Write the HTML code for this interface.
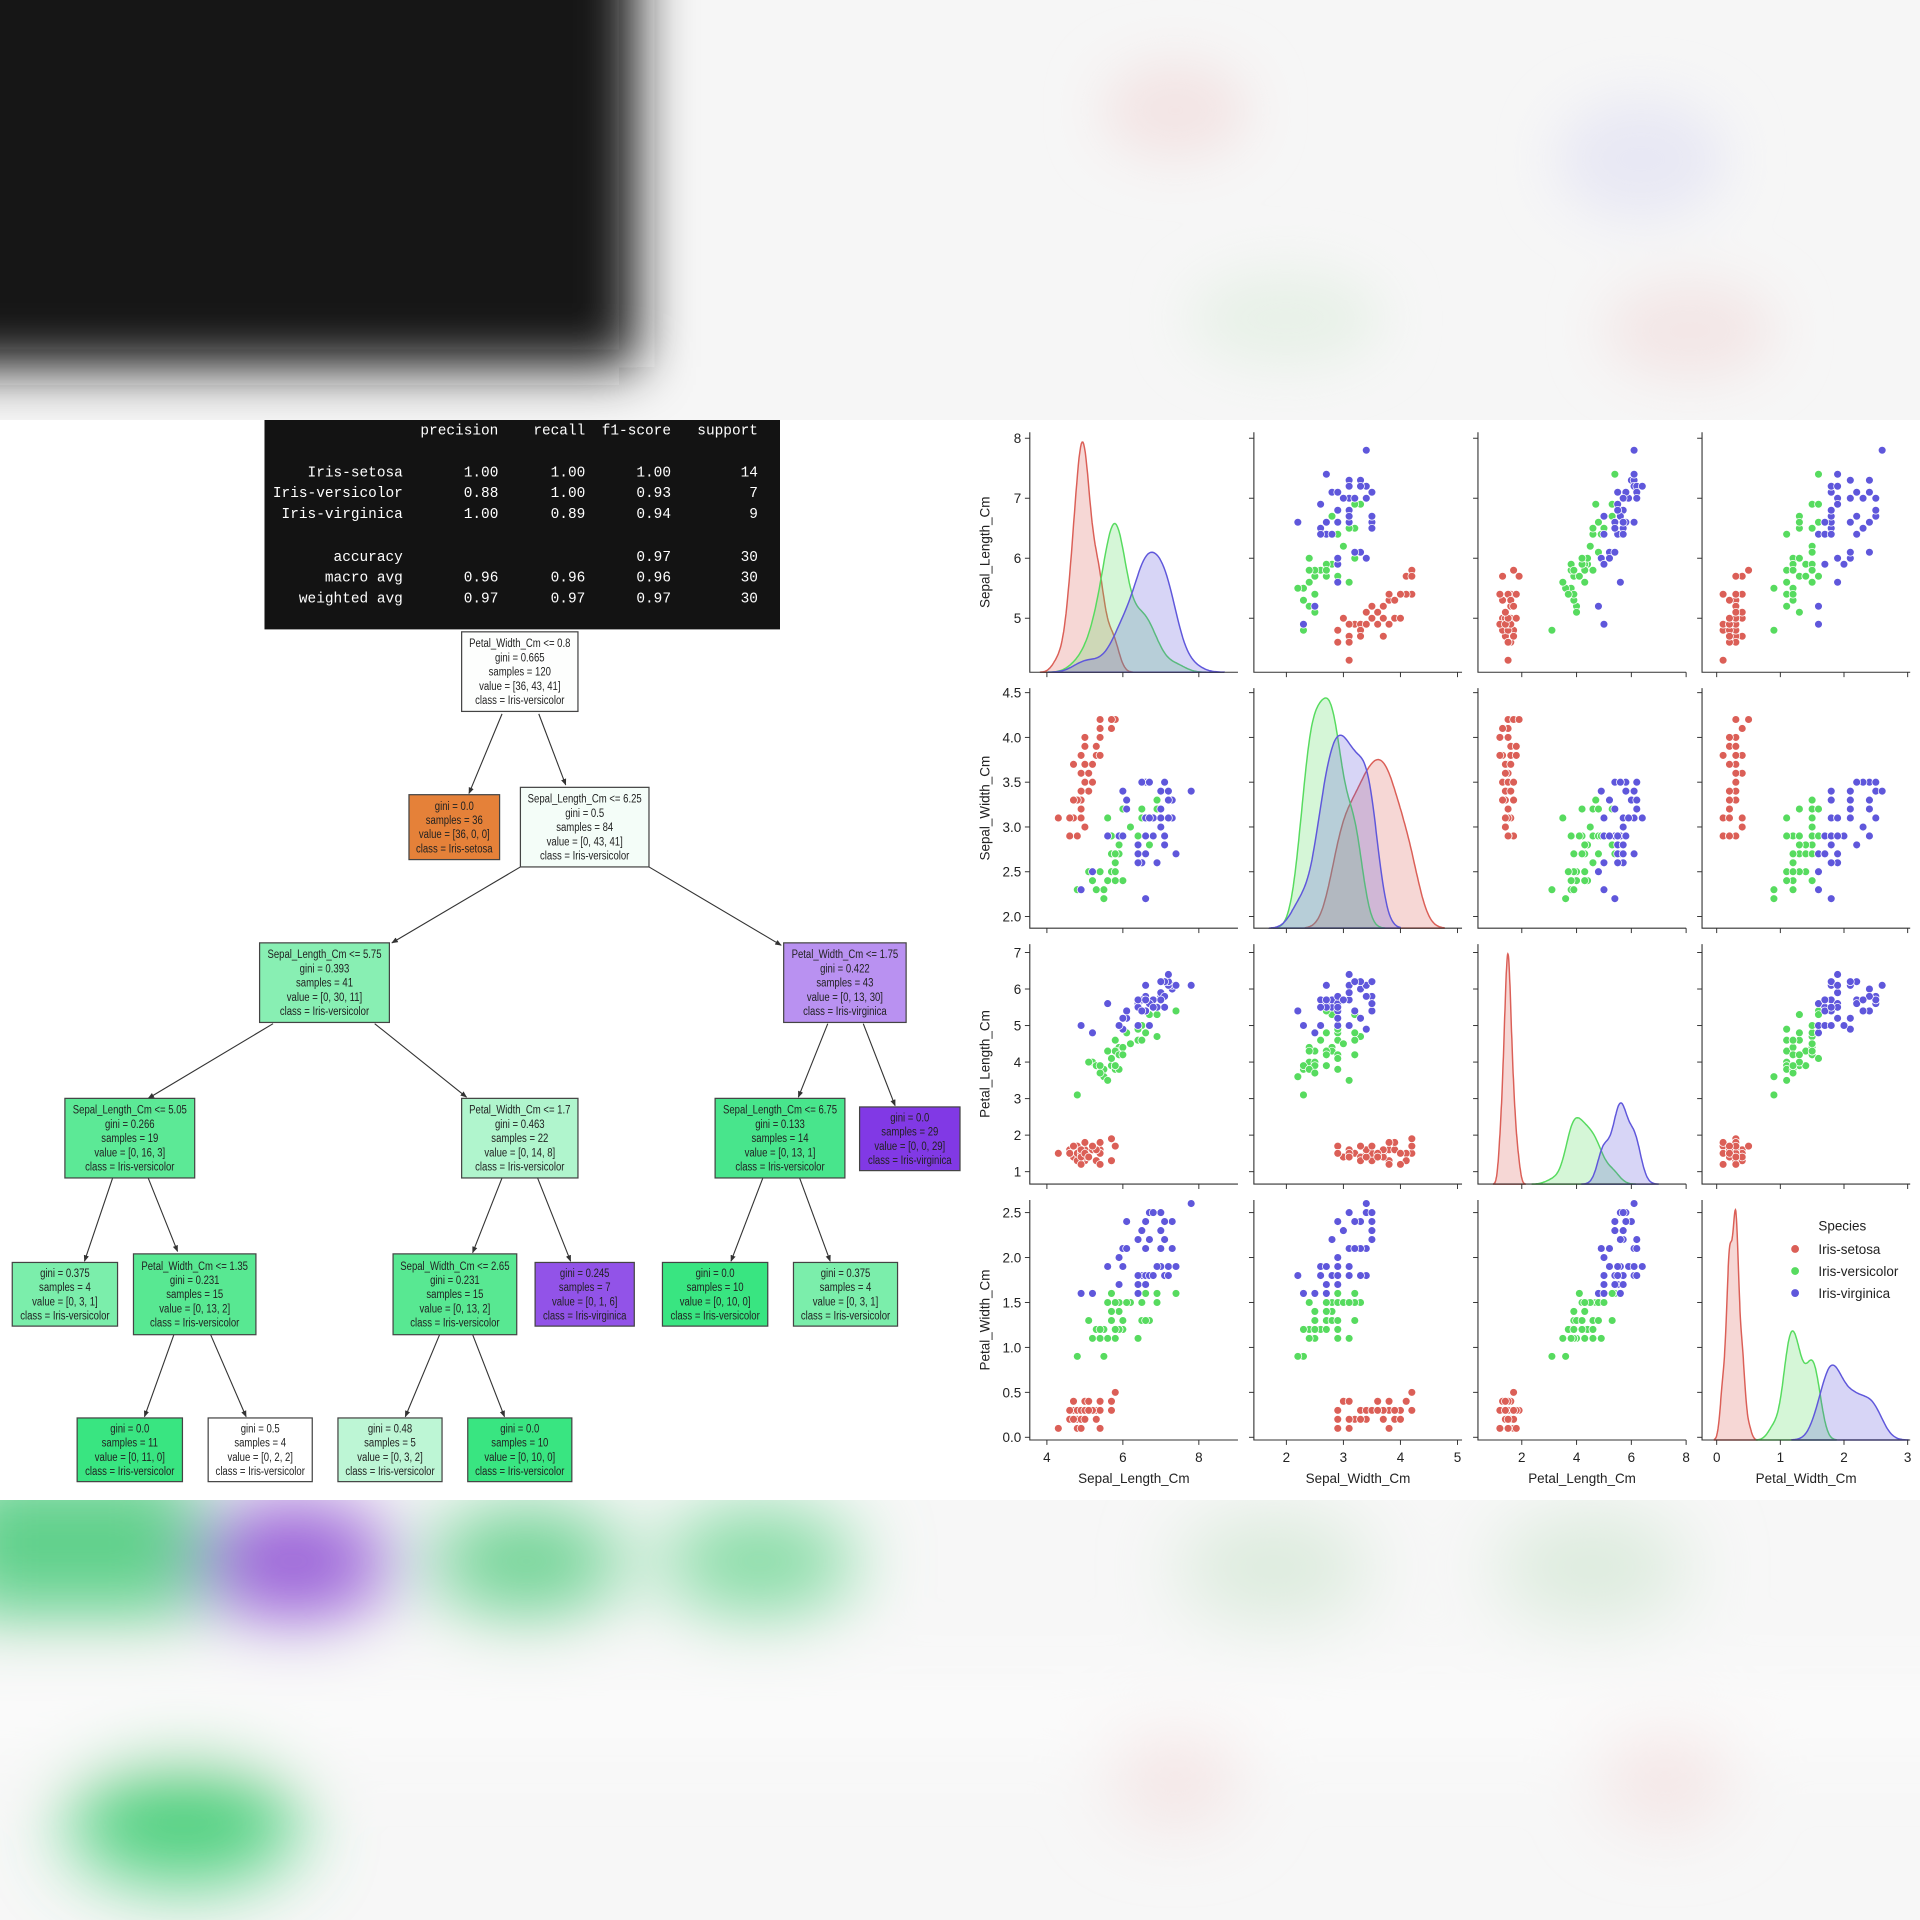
<!DOCTYPE html>
<html><head><meta charset="utf-8">
<style>
html,body{margin:0;padding:0;background:#fff;}
svg{display:block;}
.rep{font-family:"Liberation Mono",monospace;font-size:11.8px;fill:#fff;}
.nd{font-family:"Liberation Sans",sans-serif;font-size:10px;fill:#222;}
.ax{font-family:"Liberation Sans","DejaVu Sans",sans-serif;font-size:11px;fill:#222;}
</style></head>
<body>
<svg id="s" width="1920" height="1920" viewBox="0 0 1568 1568" xmlns="http://www.w3.org/2000/svg">
<defs>
<filter id="b1" x="-50%" y="-50%" width="200%" height="200%"><feGaussianBlur stdDeviation="22"/></filter>
<filter id="b2" x="-50%" y="-50%" width="200%" height="200%"><feGaussianBlur stdDeviation="30"/></filter>
<clipPath id="ct"><rect x="0" y="0" width="1568" height="343"/></clipPath>
<clipPath id="cb"><rect x="0" y="1225" width="1568" height="343"/></clipPath>
<marker id="ar" viewBox="0 0 10 10" refX="9" refY="5" markerWidth="6" markerHeight="6" orient="auto"><path d="M0,1 L10,5 L0,9 z" fill="#333"/></marker>
</defs>
<rect width="1568" height="1568" fill="#fff"/>
<g clip-path="url(#ct)">
<rect x="0" y="0" width="1568" height="343" fill="#f6f6f6"/>
<g filter="url(#b1)">
<rect x="-60" y="-60" width="580" height="360" fill="#141414"/>
<ellipse cx="960" cy="90" rx="60" ry="40" fill="#f3e4e4"/>
<ellipse cx="1340" cy="130" rx="70" ry="50" fill="#e8e8f4"/>
<ellipse cx="1050" cy="260" rx="80" ry="40" fill="#e8f1e8"/>
<ellipse cx="1380" cy="270" rx="70" ry="40" fill="#f3e6e6"/>
</g>
</g>
<g clip-path="url(#cb)">
<rect x="0" y="1225" width="1568" height="343" fill="#f7f7f7"/>
<g filter="url(#b2)">
<rect x="-40" y="1200" width="200" height="120" fill="#5fd08a"/>
<ellipse cx="240" cy="1275" rx="80" ry="50" fill="#9a62d8"/>
<ellipse cx="430" cy="1275" rx="80" ry="45" fill="#6fd394"/>
<ellipse cx="620" cy="1275" rx="80" ry="45" fill="#86dca5"/>
<ellipse cx="1040" cy="1280" rx="80" ry="45" fill="#dcebdd"/>
<ellipse cx="1300" cy="1280" rx="80" ry="45" fill="#dcebdd"/>
<ellipse cx="150" cy="1490" rx="95" ry="50" fill="#4fd07f"/>
<ellipse cx="960" cy="1450" rx="50" ry="40" fill="#f3e2e2"/>
<ellipse cx="1360" cy="1450" rx="50" ry="40" fill="#f3e2e2"/>
<rect x="-100" y="1380" width="1800" height="40" fill="#fdfdfd"/>
</g>
</g>
<rect x="216" y="343" width="421" height="171" fill="#131313"/>
<g class="rep" text-anchor="end">
<text x="407" y="355">precision</text><text x="478" y="355">recall</text><text x="548" y="355">f1-score</text><text x="619" y="355">support</text>
<text x="329" y="389">Iris-setosa</text><text x="407" y="389">1.00</text><text x="478" y="389">1.00</text><text x="548" y="389">1.00</text><text x="619" y="389">14</text>
<text x="329" y="406">Iris-versicolor</text><text x="407" y="406">0.88</text><text x="478" y="406">1.00</text><text x="548" y="406">0.93</text><text x="619" y="406">7</text>
<text x="329" y="423">Iris-virginica</text><text x="407" y="423">1.00</text><text x="478" y="423">0.89</text><text x="548" y="423">0.94</text><text x="619" y="423">9</text>
<text x="329" y="458">accuracy</text><text x="548" y="458">0.97</text><text x="619" y="458">30</text>
<text x="329" y="475">macro avg</text><text x="407" y="475">0.96</text><text x="478" y="475">0.96</text><text x="548" y="475">0.96</text><text x="619" y="475">30</text>
<text x="329" y="492">weighted avg</text><text x="407" y="492">0.97</text><text x="478" y="492">0.97</text><text x="548" y="492">0.97</text><text x="619" y="492">30</text>
</g>
<g stroke="#333" stroke-width="0.9" marker-end="url(#ar)">
<line x1="410" y1="583" x2="383" y2="648"/><line x1="440" y1="583" x2="462" y2="641"/>
<line x1="425" y1="708" x2="320" y2="770"/><line x1="530" y1="708" x2="638" y2="772"/>
<line x1="223" y1="836" x2="121" y2="897"/><line x1="306" y1="836" x2="381" y2="896"/>
<line x1="676" y1="836" x2="652" y2="896"/><line x1="705" y1="836" x2="731" y2="903"/>
<line x1="92" y1="962" x2="69" y2="1030"/><line x1="121" y1="962" x2="145" y2="1022"/>
<line x1="410" y1="962" x2="386" y2="1023"/><line x1="439" y1="962" x2="466" y2="1030"/>
<line x1="623" y1="962" x2="597" y2="1030"/><line x1="653" y1="962" x2="678" y2="1030"/>
<line x1="142" y1="1090" x2="118" y2="1157"/><line x1="172" y1="1090" x2="201" y2="1157"/>
<line x1="359" y1="1090" x2="331" y2="1157"/><line x1="386" y1="1090" x2="412" y2="1157"/>
</g>
<g id="tree"></g>
<g id="pp"></g>
</svg>
<script>
var NS="http://www.w3.org/2000/svg";
function el(p,t,a,txt){var e=document.createElementNS(NS,t);for(var k in a)e.setAttribute(k,a[k]);if(txt!==undefined)e.textContent=txt;p.appendChild(e);return e;}
var tree=document.getElementById("tree");
var nodes=[
[377,516,95,65,"#fdfefd",["Petal_Width_Cm <= 0.8","gini = 0.665","samples = 120","value = [36, 43, 41]","class = Iris-versicolor"]],
[334,649,74,53,"#e58139",["gini = 0.0","samples = 36","value = [36, 0, 0]","class = Iris-setosa"]],
[425,643,105,65,"#f4fdf8",["Sepal_Length_Cm <= 6.25","gini = 0.5","samples = 84","value = [0, 43, 41]","class = Iris-versicolor"]],
[212,770,106,65,"#88efb3",["Sepal_Length_Cm <= 5.75","gini = 0.393","samples = 41","value = [0, 30, 11]","class = Iris-versicolor"]],
[640,770,100,65,"#b991f1",["Petal_Width_Cm <= 1.75","gini = 0.422","samples = 43","value = [0, 13, 30]","class = Iris-virginica"]],
[53,897,106,65,"#5ce996",["Sepal_Length_Cm <= 5.05","gini = 0.266","samples = 19","value = [0, 16, 3]","class = Iris-versicolor"]],
[377,897,95,65,"#b0f5cd",["Petal_Width_Cm <= 1.7","gini = 0.463","samples = 22","value = [0, 14, 8]","class = Iris-versicolor"]],
[584,897,106,65,"#48e58c",["Sepal_Length_Cm <= 6.75","gini = 0.133","samples = 14","value = [0, 13, 1]","class = Iris-versicolor"]],
[702,904,82,52,"#8139e5",["gini = 0.0","samples = 29","value = [0, 0, 29]","class = Iris-virginica"]],
[10,1031,86,52,"#7beeab",["gini = 0.375","samples = 4","value = [0, 3, 1]","class = Iris-versicolor"]],
[109,1024,100,66,"#58e892",["Petal_Width_Cm <= 1.35","gini = 0.231","samples = 15","value = [0, 13, 2]","class = Iris-versicolor"]],
[321,1024,101,66,"#58e892",["Sepal_Width_Cm <= 2.65","gini = 0.231","samples = 15","value = [0, 13, 2]","class = Iris-versicolor"]],
[437,1031,81,52,"#9253e8",["gini = 0.245","samples = 7","value = [0, 1, 6]","class = Iris-virginica"]],
[541,1031,86,52,"#39e581",["gini = 0.0","samples = 10","value = [0, 10, 0]","class = Iris-versicolor"]],
[648,1031,85,52,"#7beeab",["gini = 0.375","samples = 4","value = [0, 3, 1]","class = Iris-versicolor"]],
[63,1158,86,52,"#39e581",["gini = 0.0","samples = 11","value = [0, 11, 0]","class = Iris-versicolor"]],
[170,1158,85,52,"#ffffff",["gini = 0.5","samples = 4","value = [0, 2, 2]","class = Iris-versicolor"]],
[276,1158,85,52,"#bdf6d5",["gini = 0.48","samples = 5","value = [0, 3, 2]","class = Iris-versicolor"]],
[382,1158,85,52,"#39e581",["gini = 0.0","samples = 10","value = [0, 10, 0]","class = Iris-versicolor"]]
];
nodes.forEach(function(n){
 el(tree,"rect",{x:n[0],y:n[1],width:n[2],height:n[3],fill:n[4],stroke:"#444","stroke-width":1});
 var L=n[5].length,lh=11.6,top=n[1]+(n[3]-L*lh)/2+9;
 n[5].forEach(function(s,i){el(tree,"text",{class:"nd",x:0,y:0,"text-anchor":"middle",transform:"translate("+(n[0]+n[2]/2)+","+(top+i*lh)+") scale(0.78,1)"},s);});
});
var pp=document.getElementById("pp");
var seed=12345;function rnd(){seed|=0;seed=seed+0x6D2B79F5|0;var t=Math.imul(seed^seed>>>15,1|seed);t=t+Math.imul(t^t>>>7,61|t)^t;return((t^t>>>14)>>>0)/4294967296;}
function gz(){var u=rnd()||1e-9,v=rnd();return Math.sqrt(-2*Math.log(u))*Math.cos(2*Math.PI*v);}
function r1(x){return Math.round(x*10)/10;}
var cols=["#db5f57","#57db5f","#5f57db"];
var data=[[],[],[]];
for(var i=0;i<40;i++){var a=gz(),b=gz(),c=gz(),d=gz();
 data[0].push([r1(5.0+0.35*a),r1(3.42+0.38*(0.74*a+0.67*b)),r1(1.46+0.17*(0.27*a+0.96*c)),Math.max(0.1,r1(0.24+0.1*(0.3*a+0.95*d)))]);}
for(var i=0;i<40;i++){var a=gz(),b=gz(),c=gz(),d=gz();
 data[1].push([r1(5.94+0.5*a),r1(2.77+0.31*(0.53*a+0.85*b)),r1(4.26+0.47*(0.75*a+0.66*c)),r1(1.33+0.2*(0.55*a+0.3*b+0.78*d))]);}
for(var i=0;i<40;i++){var a=gz(),b=gz(),c=gz(),d=gz();
 data[2].push([r1(6.59+0.64*a),r1(2.97+0.32*(0.46*a+0.89*b)),r1(5.55+0.55*(0.86*a+0.5*c)),r1(2.03+0.27*(0.3*a+0.5*b+0.8*d))]);}
var X0=[841,1024,1207,1390],Y0=[353,562,771,980],W=170,H=196;
var xr=[[3.55,9.03],[1.43,5.08],[0.4,8.0],[-0.23,3.04]];
var yr=[[4.1,8.1],[1.87,4.55],[0.66,7.23],[-0.03,2.64]];
var xt=[[4,6,8],[2,3,4,5],[2,4,6,8],[0,1,2,3]];
var yt=[[5,6,7,8],[2.0,2.5,3.0,3.5,4.0,4.5],[1,2,3,4,5,6,7],[0.0,0.5,1.0,1.5,2.0,2.5]];
var names=["Sepal_Length_Cm","Sepal_Width_Cm","Petal_Length_Cm","Petal_Width_Cm"];
function fx(c,v){return X0[c]+(v-xr[c][0])/(xr[c][1]-xr[c][0])*W;}
function fy(r,v){return Y0[r]+H-(v-yr[r][0])/(yr[r][1]-yr[r][0])*H;}
for(var r=0;r<4;r++)for(var c=0;c<4;c++){
 var x0=X0[c],y0=Y0[r];
 if(r==c){
  var curves=[],mx=0;
  for(var k=0;k<3;k++){var v=data[k].map(function(p){return p[c];});
   var m=v.reduce(function(a,b){return a+b;},0)/v.length;
   var sd=Math.sqrt(v.reduce(function(a,b){return a+(b-m)*(b-m);},0)/(v.length-1));
   var bw=sd*Math.pow(v.length,-0.2);
   var lo=Math.min.apply(null,v)-3*bw,hi=Math.max.apply(null,v)+3*bw,pts=[];
   for(var j=0;j<=120;j++){var t=lo+(hi-lo)*j/120,s=0;v.forEach(function(q){var z=(t-q)/bw;s+=Math.exp(-z*z/2);});s/=v.length*bw;pts.push([t,s]);if(s>mx)mx=s;}
   curves.push(pts);}
  for(var k=0;k<3;k++){var d="M"+fx(c,curves[k][0][0])+","+(y0+H);
   curves[k].forEach(function(p){d+=" L"+fx(c,p[0]).toFixed(1)+","+(y0+H-p[1]/mx*(H-8)).toFixed(1);});
   d+=" L"+fx(c,curves[k][120][0])+","+(y0+H)+" Z";
   el(pp,"path",{d:d,fill:cols[k],"fill-opacity":0.25,stroke:cols[k],"stroke-width":1.2});}
 } else {
  for(var k=0;k<3;k++)data[k].forEach(function(p){
   el(pp,"circle",{cx:fx(c,p[c]).toFixed(1),cy:fy(r,p[r]).toFixed(1),r:3.2,fill:cols[k],stroke:"#fff","stroke-width":0.6});});
 }
 el(pp,"path",{d:"M"+x0+","+y0+" V"+(y0+H)+" H"+(x0+W),fill:"none",stroke:"#333","stroke-width":0.9});
 xt[c].forEach(function(t){var X=fx(c,t);el(pp,"line",{x1:X,x2:X,y1:y0+H,y2:y0+H+4,stroke:"#333","stroke-width":0.8});
  if(r==3)el(pp,"text",{class:"ax",x:X,y:y0+H+18,"text-anchor":"middle"},String(t));});
 yt[r].forEach(function(t){var Y=fy(r,t);el(pp,"line",{x1:x0-4,x2:x0,y1:Y,y2:Y,stroke:"#333","stroke-width":0.8});
  if(c==0)el(pp,"text",{class:"ax",x:x0-7,y:Y+4,"text-anchor":"end"},(r==1||r==3)?t.toFixed(1):String(t));});
}
for(var i=0;i<4;i++){
 el(pp,"text",{class:"ax",x:X0[i]+W/2,y:1211,"text-anchor":"middle"},names[i]);
 var cy=Y0[i]+H/2;el(pp,"text",{class:"ax",x:0,y:0,"text-anchor":"middle",transform:"translate(808,"+cy+") rotate(-90)"},names[i]);
}
el(pp,"text",{class:"ax",x:1485,y:1005},"Species");
["Iris-setosa","Iris-versicolor","Iris-virginica"].forEach(function(s,k){
 el(pp,"circle",{cx:1466,cy:1020+k*18,r:3.2,fill:cols[k]});
 el(pp,"text",{class:"ax",x:1485,y:1024+k*18},s);});
</script>
</body></html>
